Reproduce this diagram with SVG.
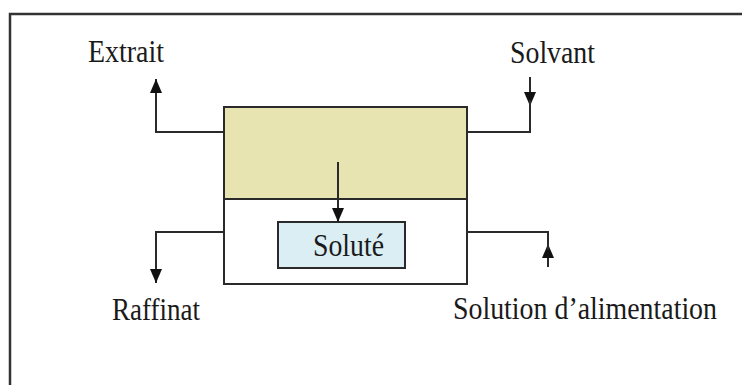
<svg xmlns="http://www.w3.org/2000/svg" width="742" height="385" viewBox="0 0 742 385">
<style>
.t{font-family:"Liberation Serif","Times New Roman",serif;font-size:31px;fill:#1a1a1a}
.ln{fill:none;stroke:#2a2a2a;stroke-width:2}
.bx{stroke:#2a2a2a;stroke-width:2}
</style>
<defs>
<marker id="ah" viewBox="0 0 14 12" refX="14" refY="6" markerWidth="14" markerHeight="12" markerUnits="userSpaceOnUse" orient="auto">
<path d="M0,0 L14,6 L0,12 z" fill="#111"/>
</marker>
</defs>
<rect x="0" y="0" width="742" height="385" fill="#fff"/>
<path d="M10,385 V14 H742" fill="none" stroke="#333" stroke-width="2.5"/>
<g id="cell">
<rect class="bx" x="224" y="107" width="243" height="177" fill="#fff"/>
<rect class="bx" x="224" y="107" width="243" height="92" fill="#e8e4b2"/>
</g>
<g id="solute">
<rect class="bx" x="278" y="222" width="127" height="46" fill="#dbeef4"/>
<text class="t" x="313" y="256" textLength="71" lengthAdjust="spacingAndGlyphs">Soluté</text>
</g>
<g id="extrait"><text class="t" x="88" y="62" textLength="76" lengthAdjust="spacingAndGlyphs">Extrait</text></g>
<g id="solvant"><text class="t" x="510" y="63" textLength="85" lengthAdjust="spacingAndGlyphs">Solvant</text></g>
<g id="raffinat"><text class="t" x="112" y="320" textLength="88" lengthAdjust="spacingAndGlyphs">Raffinat</text></g>
<g id="solution"><text class="t" x="453" y="319" textLength="264" lengthAdjust="spacingAndGlyphs">Solution d’alimentation</text></g>
<g id="connectors">
<path class="ln" d="M224,132 H156 V79" marker-end="url(#ah)"/>
<path class="ln" d="M530,77 V106" marker-end="url(#ah)"/>
<path class="ln" d="M530,100 V132 H467"/>
<path class="ln" d="M224,232 H156 V283" marker-end="url(#ah)"/>
<path class="ln" d="M548,267 V244" marker-end="url(#ah)"/>
<path class="ln" d="M548,250 V232 H467"/>
<path class="ln" d="M338,162 V222" marker-end="url(#ah)"/>
</g>
</svg>
